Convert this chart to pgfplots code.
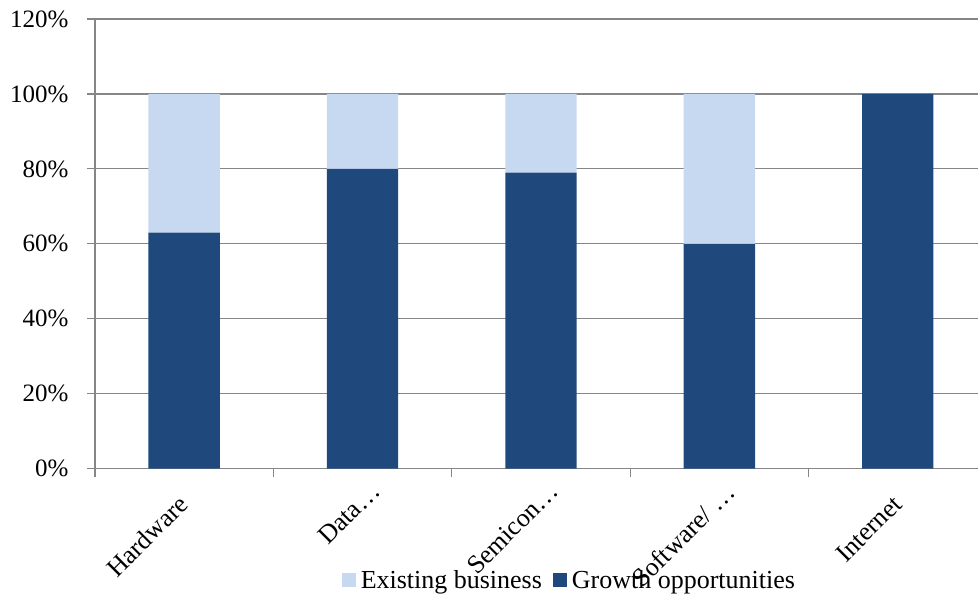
\documentclass[border=0pt]{standalone}
\usepackage{pgfplots}
\pgfplotsset{compat=1.18}
\usepackage{fontspec}
\setmainfont{Liberation Serif}
\definecolor{darkb}{RGB}{31,73,125}
\definecolor{lightb}{RGB}{198,217,241}
\definecolor{gridg}{RGB}{134,134,134}
\begin{document}
\begin{tikzpicture}
\begin{axis}[
  scale only axis, width=884pt, height=450pt,
  xmin=-0.5, xmax=4.452, ymin=0, ymax=120,
  ybar stacked, bar width=0.4,
  axis lines*=left,
  axis line style={gridg, line width=1.2pt},
  ytick={0,20,...,120},
  yticklabel={\pgfmathprintnumber{\tick}\%},
  ymajorgrids, grid style={gridg, line width=1.2pt},
  tick align=outside, major tick length=8pt,
  tick style={gridg, line width=1.2pt},
  xtick={-0.5,0.5,1.5,2.5,3.5},
  xticklabels={},
  extra x ticks={0,1,2,3,4},
  extra x tick labels={Hardware, {Data…\kern-19pt\null}, {Semicon…\kern-19pt\null}, {Software/ …\kern-17pt\null}, Internet},
  extra x tick style={tick style={draw=none}},
  /pgf/number format/assume math mode=true,
  yticklabel style={font=\fontsize{25}{28}\selectfont, text=black, xshift=-15pt},
  xticklabel style={font=\fontsize{26}{28}\selectfont, text=black, xshift=8pt, yshift=-27pt, rotate=45, anchor=base east},
  legend style={draw=none, fill=none, font=\fontsize{26}{28}\selectfont,
    at={(axis description cs:0.537,-0.247)}, anchor=center,
    legend columns=2,
    /tikz/every odd column/.append style={column sep=3pt},
    /tikz/every even column/.append style={column sep=9pt}},
  legend image code/.code={\path[#1] (0pt,-7pt) rectangle (14pt,7pt);},
  clip=false,
]
\addlegendimage{fill=lightb, draw=none}
\addlegendentry{Existing business}
\addlegendimage{fill=darkb, draw=none}
\addlegendentry{Growth opportunities}
\addplot[fill=darkb, draw=none, forget plot] coordinates {(0,63) (1,80) (2,79) (3,60) (4,100)};
\addplot[fill=lightb, draw=none, forget plot] coordinates {(0,37) (1,20) (2,21) (3,40) (4,0)};
\end{axis}
\useasboundingbox ([xshift=-95pt,yshift=-127pt]current axis.south west) rectangle ([yshift=19pt]current axis.north east);
\end{tikzpicture}
\end{document}
